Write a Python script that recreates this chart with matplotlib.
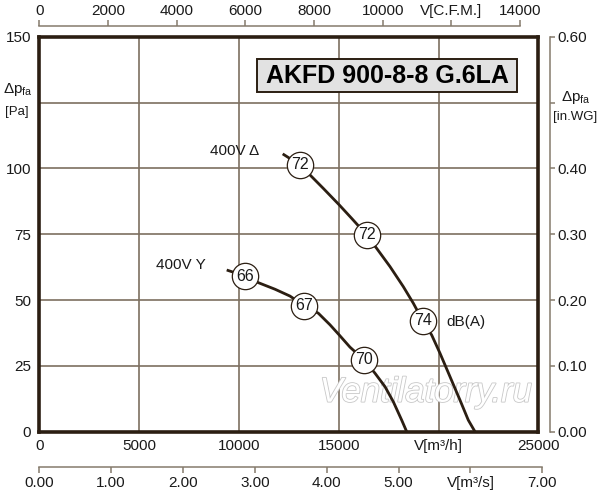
import matplotlib
matplotlib.use("Agg")
import matplotlib.pyplot as plt
import matplotlib.patheffects as pe
from matplotlib.patches import Rectangle

plt.rcParams['font.family'] = ['Liberation Sans', 'DejaVu Sans']
plt.rcParams['mathtext.fontset'] = 'custom'
plt.rcParams['mathtext.rm'] = 'Liberation Sans'
plt.rcParams['mathtext.it'] = 'Liberation Sans'

# ---------------- data ----------------
title = "AKFD 900-8-8 G.6LA"

# 400V delta curve (V m3/h, dp Pa)
delta_flow = [12194, 13061, 13562, 14228, 15030, 15651, 16403, 16904, 17570, 18236,
              18737, 19208, 19659, 20075, 20576, 21077, 21493, 21829]
delta_dp = [105.5, 101.3, 97.5, 92.4, 86.1, 81.0, 74.7, 69.6, 62.7, 55.1,
            48.8, 42.2, 36.7, 29.8, 20.9, 12.0, 4.4, 0.0]
delta_lbl_flow = [13061, 16403, 19208]
delta_lbl_dp = [101.3, 74.7, 42.2]
delta_lbl_db = ["72", "72", "74"]

# 400V Y curve
y_flow = [9389, 10306, 10972, 11809, 12560, 13277, 13978, 14564, 15030, 15566,
          16267, 16819, 17320, 17735, 18156, 18407]
y_dp = [61.4, 59.1, 56.6, 54.1, 51.5, 47.8, 45.0, 40.6, 36.7, 32.1,
        27.3, 22.2, 17.1, 11.4, 4.4, 0.0]
y_lbl_flow = [10306, 13277, 16267]
y_lbl_dp = [59.1, 47.8, 27.3]
y_lbl_db = ["66", "67", "70"]

x_ticks = [0, 5000, 10000, 15000, 20000, 25000]
x_ticklabels = ["0", "5000", "10000", "15000", "V[m³/h]", "25000"]
y_ticks = [0, 25, 50, 75, 100, 125, 150]
y_ticklabels = ["0", "25", "50", "75", "100", "", "150"]
cfm_ticks = [0, 2000, 4000, 6000, 8000, 10000, 12000, 14000]
cfm_ticklabels = ["0", "2000", "4000", "6000", "8000", "10000", "V[C.F.M.]", "14000"]
ms_ticks = [0, 1, 2, 3, 4, 5, 6, 7]
ms_ticklabels = ["0.00", "1.00", "2.00", "3.00", "4.00", "5.00", "V[m³/s]", "7.00"]
wg_ticks = [0.0, 0.1, 0.2, 0.3, 0.4, 0.5, 0.6]
wg_ticklabels = ["0.00", "0.10", "0.20", "0.30", "0.40", "", "0.60"]

# ---------------- style ----------------
DARK = '#2b1e12'
GRID = '#7d7060'
AXG = '#857a6c'
TXT = '#1a1a1a'
FS = 11

W, H = 600, 500
fig = plt.figure(figsize=(6, 5), dpi=100)

def fx(px):
    return px / W

def fy(py):
    return 1 - py / H

L, R, T, B = 39.3, 538.3, 36.7, 431.7
ax = fig.add_axes([fx(L), fy(B), fx(R - L), (B - T) / H])
ax.set_xlim(0, 25000)
ax.set_ylim(0, 150)
ax.set_xticks(x_ticks)
ax.set_xticklabels(x_ticklabels)
ax.set_yticks(y_ticks)
ax.set_yticklabels(y_ticklabels)
ax.tick_params(axis='both', length=0, labelsize=FS, labelcolor=TXT)
ax.tick_params(axis='x', pad=5)
ax.tick_params(axis='y', pad=6)
ax.grid(True, color=GRID, lw=1.2)
ax.set_axisbelow(True)
for s in ax.spines.values():
    s.set_color(DARK)
    s.set_linewidth(2.6)
    s.set_zorder(5)

# watermark
ax.text(0.775, 0.1, "Ventilatorry.ru", transform=ax.transAxes, fontsize=25,
        style='italic', color='white', ha='center', va='center', zorder=1,
        path_effects=[pe.withStroke(linewidth=1.2, foreground='#c8c8c8')])

# curves
ax.plot(delta_flow, delta_dp, color=DARK, lw=2.0, zorder=3, solid_capstyle='butt',
        solid_joinstyle='round')
ax.plot(y_flow, y_dp, color=DARK, lw=2.0, zorder=3, solid_capstyle='butt',
        solid_joinstyle='round')
for fl, dp, t in list(zip(delta_lbl_flow, delta_lbl_dp, delta_lbl_db)) + \
        list(zip(y_lbl_flow, y_lbl_dp, y_lbl_db)):
    ax.scatter([fl], [dp], s=360, facecolor='white', edgecolor=DARK, lw=0.9, zorder=4)
    ax.text(fl, dp, t, ha='center', va='center', fontsize=FS + 0.5, color=TXT, zorder=6)

ax.text(8552, 106.7, "400V Δ", fontsize=FS, color=TXT, va='center', ha='left')
ax.text(5847, 63.3, "400V Y", fontsize=FS, color=TXT, va='center', ha='left')
ax.text(20411, 41.8, "dB(A)", fontsize=FS, color=TXT, va='center', ha='left')

# title box
fig.add_artist(Rectangle((fx(257), fy(92)), fx(517 - 257), (92 - 59) / H,
                         transform=fig.transFigure, facecolor='#e2e2e2',
                         edgecolor=DARK, lw=1.4, zorder=10))
fig.text(fx(387.5), fy(76), title, fontsize=18, fontweight='bold', color='black',
         ha='center', va='center', zorder=11)

# top CFM axis
axc = fig.add_axes([fx(L), fy(26), fx(520 - L), 0.0001])
axc.set_xlim(0, 14000)
axc.patch.set_visible(False)
for k in ['left', 'right', 'bottom']:
    axc.spines[k].set_visible(False)
axc.spines['top'].set_color(AXG)
axc.spines['top'].set_linewidth(1.1)
axc.set_yticks([])
axc.xaxis.set_ticks_position('top')
axc.xaxis.set_label_position('top')
axc.set_xticks(cfm_ticks)
axc.set_xticklabels(cfm_ticklabels)
axc.tick_params(axis='x', direction='out', length=4, width=1.1, color=AXG,
                labelsize=FS, labelcolor=TXT, pad=1.5)

# bottom m3/s axis
axs = fig.add_axes([fx(L), fy(467.3), fx(542.3 - L), 0.0001])
axs.set_xlim(0, 7)
axs.patch.set_visible(False)
for k in ['left', 'right', 'top']:
    axs.spines[k].set_visible(False)
axs.spines['bottom'].set_color(AXG)
axs.spines['bottom'].set_linewidth(1.1)
axs.set_yticks([])
axs.set_xticks(ms_ticks)
axs.set_xticklabels(ms_ticklabels)
axs.tick_params(axis='x', direction='out', length=4.5, width=1.1, color=AXG,
                labelsize=FS, labelcolor=TXT, pad=1.5)

# right in.WG axis
axw = fig.add_axes([fx(550) - 0.0001, fy(B), 0.0001, (B - T) / H])
axw.set_ylim(0, 0.6)
axw.patch.set_visible(False)
for k in ['left', 'top', 'bottom']:
    axw.spines[k].set_visible(False)
axw.spines['right'].set_color(AXG)
axw.spines['right'].set_linewidth(1.1)
axw.set_xticks([])
axw.yaxis.set_ticks_position('right')
axw.set_yticks(wg_ticks)
axw.set_yticklabels(wg_ticklabels)
axw.tick_params(axis='y', direction='out', length=3.5, width=1.1, color=AXG,
                labelsize=FS, labelcolor=TXT, pad=1.5)

# axis titles
fig.text(fx(3), fy(90), r"Δp$_{\mathrm{fa}}$", fontsize=FS, color=TXT, ha='left', va='center')
fig.text(fx(17), fy(112), "[Pa]", fontsize=FS - 1.5, color=TXT, ha='center', va='center')
fig.text(fx(576), fy(98), r"Δp$_{\mathrm{fa}}$", fontsize=FS, color=TXT, ha='center', va='center')
fig.text(fx(575), fy(117), "[in.WG]", fontsize=FS - 1.5, color=TXT, ha='center', va='center')

fig.savefig("out.png", dpi=100)
